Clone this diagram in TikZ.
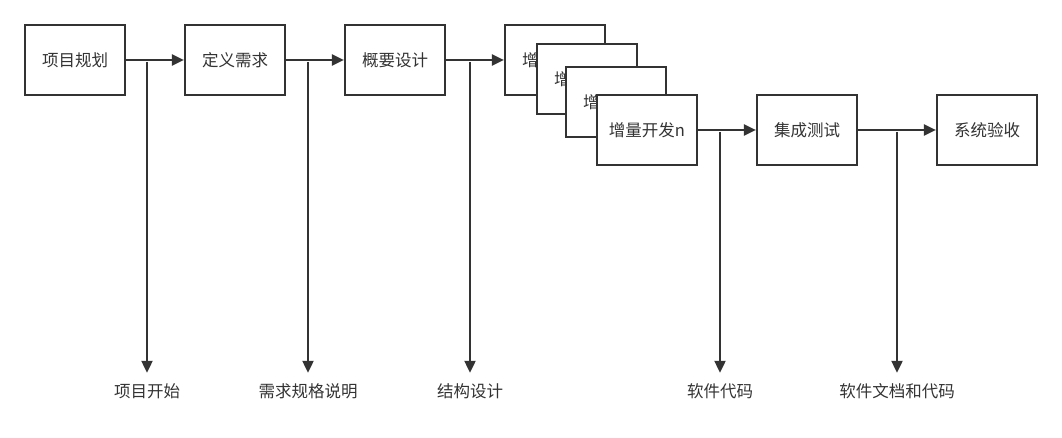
\documentclass[tikz,border=0pt]{standalone}
\usepackage{fontspec}
\setmainfont{Noto Sans CJK SC}
\usetikzlibrary{arrows.meta}
\definecolor{ink}{HTML}{333333}
\begin{document}
\begin{tikzpicture}[x=1pt,y=-1pt,
  box/.style={draw=ink,line width=2.2pt,fill=white,minimum width=100pt,minimum height=70pt,inner sep=0pt,font=\fontsize{16.5}{18}\selectfont,text=ink},
  lbl/.style={inner xsep=0pt,inner ysep=12pt,text height=12pt,text depth=4pt,font=\fontsize{16.5}{18}\selectfont,text=ink},
  conn/.style={draw=ink,line width=2.2pt,-{Triangle[length=12pt,width=11pt]}}]
\useasboundingbox (0,0) rectangle (1062,438);
\node[box] (p1) at (75,60) {项目规划};
\node[box] (p2) at (235,60) {定义需求};
\node[box] (p3) at (395,60) {概要设计};
\node[box] (i1) at (555,60) {增量开发};
\node[box] (i2) at (587,79) {增量开发};
\node[box] (i3) at (616,102) {增量开发};
\node[box] (i4) at (647,130) {增量开发n};
\node[box] (p5) at (807,130) {集成测试};
\node[box] (p6) at (987,130) {系统验收};
\draw[conn] (p1) -- (p2);
\draw[conn] (p2) -- (p3);
\draw[conn] (p3) -- (i1);
\draw[conn] (i4) -- (p5);
\draw[conn] (p5) -- (p6);
\node[lbl] (l1) at (147,393) {项目开始};
\node[lbl] (l2) at (308,393) {需求规格说明};
\node[lbl] (l3) at (470,393) {结构设计};
\node[lbl] (l4) at (720,393) {软件代码};
\node[lbl] (l5) at (897,393) {软件文档和代码};
\coordinate (v1) at (147,62);
\coordinate (v2) at (308,62);
\coordinate (v3) at (470,62);
\coordinate (v4) at (720,132);
\coordinate (v5) at (897,132);
\draw[conn] (v1) -- (l1.north);
\draw[conn] (v2) -- (l2.north);
\draw[conn] (v3) -- (l3.north);
\draw[conn] (v4) -- (l4.north);
\draw[conn] (v5) -- (l5.north);
\end{tikzpicture}
\end{document}
